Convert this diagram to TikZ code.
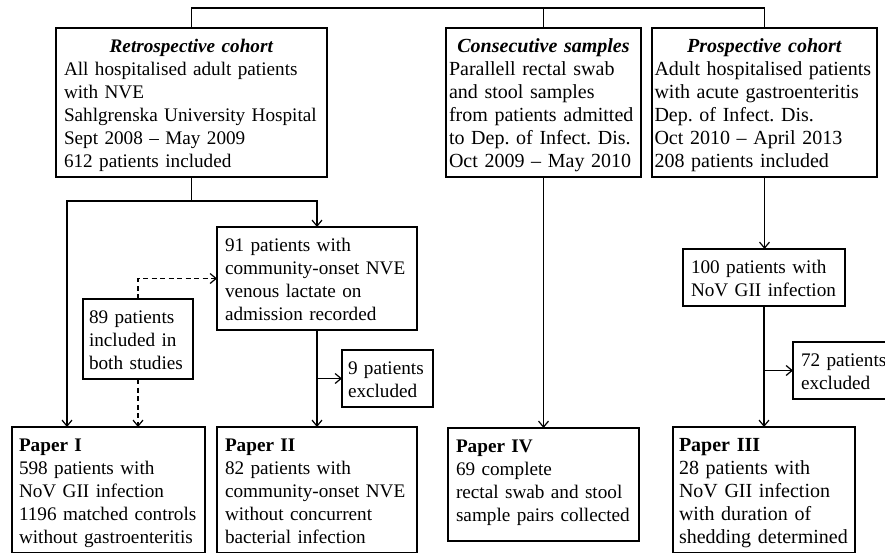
\documentclass[tikz,border=0pt]{standalone}
\usepackage{fontspec}
\setmainfont{Liberation Serif}
\usetikzlibrary{arrows.meta}
\tikzset{box/.style={draw, line width=1.2pt, outer sep=0pt, anchor=north west,
   align=left, inner xsep=8pt, inner ysep=5pt,
   font=\frenchspacing\fontsize{19.2}{23}\selectfont,
   execute at begin node=\rule{0pt}{19pt},
   execute at end node=\rule[-5pt]{0pt}{5pt}},
 big/.style={font=\frenchspacing\fontsize{20}{23}\selectfont},
 plain/.style={line width=1.2pt},
 link/.style={line width=1.2pt, -{Straight Barb[length=6pt,width=10pt]}},
 dashlink/.style={link, dash pattern=on 5pt off 3.5pt},
 }
\newcommand{\head}[1]{\makebox[\linewidth]{\textbf{\textit{#1}}}}

\begin{document}
\begin{tikzpicture}[x=1pt,y=-1pt]
    \useasboundingbox (0,0) rectangle (885,552);
    \clip (0,0) rectangle (885,552);
    \node[box, text width=255pt] (retro) at (56,28) {\head{Retrospective cohort}\\All hospitalised adult patients\\with NVE\\Sahlgrenska University Hospital\\Sept 2008 – May 2009\\612 patients included};
    \node[box, big, inner xsep=3pt, text width=189pt] (consec) at (446,28) {\head{Consecutive samples}\\Parallell rectal swab\\and stool samples\\from patients admitted\\to Dep. of Infect. Dis.\\Oct 2009 – May 2010};
    \node[box, big, inner xsep=2.5pt, text width=220pt] (prosp) at (652,28) {\head{Prospective cohort}\\\mbox{Adult hospitalised patients}\\with acute gastroenteritis\\Dep. of Infect. Dis.\\Oct 2010 – April 2013\\208 patients included};
    \node[box, text width=184pt] (incl91) at (217,227) {91 patients with\\community-onset NVE\\venous lactate on\\admission recorded};
    \node[box, inner xsep=6pt, text width=98pt] (both89) at (83,299) {89 patients\\included in\\both studies};
    \node[box, inner xsep=6pt, text width=79pt] (excl9) at (342,350) {9 patients\\excluded};
    \node[box, text width=146pt] (nov100) at (683,249) {100 patients with\\NoV GII infection};
    \node[box, text width=94pt] (excl72) at (793,342) {72 patients\\excluded};
    \node[box, inner xsep=7pt, text width=179pt] (paperI) at (12,427) {\textbf{Paper I}\\598 patients with\\NoV GII infection\\1196 matched controls\\without gastroenteritis};
    \node[box, text width=184pt] (paperII) at (217,427) {\textbf{Paper II}\\82 patients with\\community-onset NVE\\without concurrent\\bacterial infection};
    \node[box, text width=175pt] (paperIV) at (448,428) {\textbf{Paper IV}\\69 complete\\rectal swab and stool\\sample pairs collected\rule[-15pt]{0pt}{15pt}};
    \node[box, big, inner xsep=6pt, text width=170pt] (paperIII) at (673,427) {\textbf{Paper III}\\28 patients with\\NoV GII infection\\with duration of\\shedding determined};

    \coordinate (top) at (0,8);
    \coordinate (fork) at (67,201);
    \draw[plain] (retro.north) |- (top -| prosp.north) -- (prosp.north);
    \draw[plain] (consec.north) -- (consec.north |- top);
    \draw[link] (retro.south) |- (fork) -- (fork |- paperI.north);
    \draw[link] (retro.south |- fork) -| (incl91.north);
    \draw[dashlink] (both89.north) |- (incl91.west);
    \draw[dashlink] (both89.south) -- (both89.south |- paperI.north);
    \draw[link] (incl91.south) -- (paperII.north);
    \draw[link] (incl91.south |- excl9.west) -- (excl9.west);
    \draw[link] (consec.south) -- (consec.south |- paperIV.north);
    \draw[link] (prosp.south) -- (prosp.south |- nov100.north);
    \draw[link] (nov100.south) -- (nov100.south |- paperIII.north);
    \draw[link] (nov100.south |- excl72.west) -- (excl72.west);
\end{tikzpicture}
\end{document}
